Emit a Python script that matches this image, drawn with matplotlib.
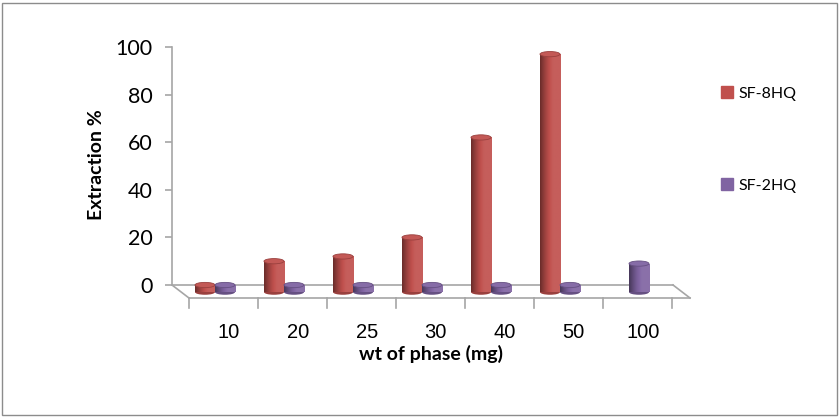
import numpy as np
import matplotlib
matplotlib.use("Agg")
import matplotlib.pyplot as plt
from matplotlib.patches import Rectangle, Ellipse

# data (no SF-8HQ value at 100 mg)
phase_wt = ["10", "20", "25", "30", "40", "50", "100"]
sf_8hq = [0, 10, 12, 20, 62, 97, None]
sf_2hq = [0, 0, 0, 0, 0, 0, 9]
series_names = ["SF-8HQ", "SF-2HQ"]
series_colors = ["#C0504D", "#8064A2"]

W, H = 840, 417
fig = plt.figure(figsize=(W / 100, H / 100), dpi=100)
fig.patches.append(Rectangle((2 / W, 2 / H), 835 / W, 412 / H, transform=fig.transFigure,
                             fill=False, edgecolor="#8c8c8c", linewidth=1.0))

ax = fig.add_axes([172 / W, 1 - 298 / H, 518 / W, 251 / H])
ymin = -5.46
ax.set_ylim(ymin, 100)
ax.set_xlim(-0.623, 6.884)
for s in ["top", "right", "bottom"]:
    ax.spines[s].set_visible(False)
ax.spines["left"].set_bounds(0, 100)
ax.spines["left"].set_color("#a6a6a6")
ax.spines["left"].set_linewidth(1.2)
ax.set_yticks(range(0, 101, 20))
ax.tick_params(axis="y", length=5, width=1.2, color="#a6a6a6", pad=9,
               labelsize=15.5)
for lab in ax.get_yticklabels():
    lab.set_fontfamily("Lato")

x = np.arange(len(phase_wt))
ax.set_xticks(x + 0.2)
ax.set_xticklabels(phase_wt, fontsize=14.5, fontfamily="Liberation Sans")
ax.tick_params(axis="x", length=0, pad=18)

# 3D-ish floor
grey = "#a6a6a6"
x_back_end = 6.638
x_front_start = -0.377
xl, xr = ax.get_xlim()
ax.plot([xl, x_back_end], [0, 0], color=grey, lw=1.2, clip_on=False)
ax.plot([x_front_start, xr], [ymin, ymin], color=grey, lw=1.2, clip_on=False)
ax.plot([xl, x_front_start], [0, ymin], color=grey, lw=1.2, clip_on=False)
ax.plot([x_back_end, xr], [0, ymin], color=grey, lw=1.2, clip_on=False)
for k in range(len(phase_wt) + 1):
    xt = x_front_start + k
    ax.plot([xt, xt], [ymin, ymin - 4.2], color=grey, lw=1.2, clip_on=False)

# cylinders
bw = 0.29
base = -3.0
cap = 2.2


def shade(c, f):
    rgb = np.array(matplotlib.colors.to_rgb(c))
    if f < 1:
        return tuple(rgb * f)
    return tuple(rgb + (1 - rgb) * (f - 1))


gradient = np.linspace(0, 1, 64)
prof = 0.55 + 0.55 * np.sin(np.clip(gradient * 1.3, 0, 1) * np.pi / 2)

for vals, col, off in [(sf_8hq, series_colors[0], -bw / 2), (sf_2hq, series_colors[1], bw / 2)]:
    for xi, v in zip(x, vals):
        if v is None:
            continue
        cx = xi + off
        top = v
        rect = Rectangle((cx - bw / 2, base), bw, top - base, facecolor="none", edgecolor="none")
        ax.add_patch(rect)
        img = np.array([[shade(col, min(p, 1.08)) for p in prof]])
        im = ax.imshow(img, extent=[cx - bw / 2, cx + bw / 2, base, top], aspect="auto",
                       zorder=2, interpolation="bilinear")
        im.set_clip_path(rect)
        ax.add_patch(Ellipse((cx, base), bw, cap, facecolor=shade(col, 0.8), edgecolor="none", zorder=1.9))
        ax.add_patch(Ellipse((cx, top), bw, cap, facecolor=shade(col, 1.05),
                             edgecolor=shade(col, 0.8), linewidth=0.6, zorder=3))

ax.set_xlim(xl, xr)
ax.set_ylim(ymin, 100)

fig.text(96 / W, 1 - 165 / H, "Extraction %", rotation=90, ha="center", va="center",
         fontsize=14, fontweight="bold", fontfamily="Lato")
fig.text(431 / W, 1 - 354 / H, "wt of phase (mg)", ha="center", va="center",
         fontsize=14, fontweight="bold", fontfamily="Lato")

handles = [plt.Line2D([], [], marker="s", linestyle="none", markersize=9,
                      markerfacecolor=c, markeredgecolor=c) for c in series_colors]
leg = fig.legend(handles, series_names, loc="upper left", bbox_to_anchor=(705 / W, 1 - 72 / H),
                 frameon=False, labelspacing=4.9, handletextpad=0.2, handlelength=1.0,
                 prop={"family": "Lato", "size": 11.5})

fig.savefig("out.png", dpi=100)
